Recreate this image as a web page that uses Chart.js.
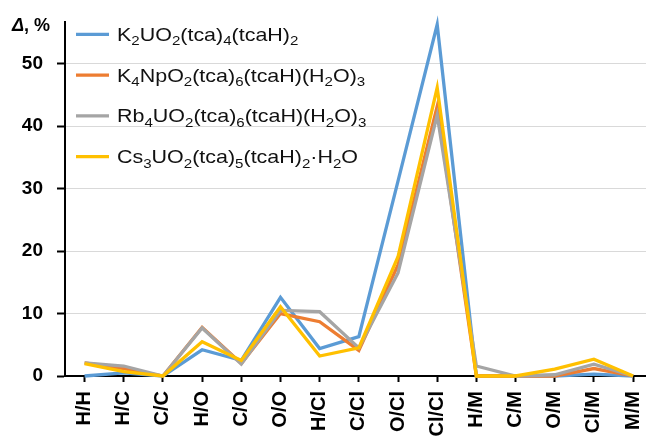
<!DOCTYPE html>
<html><head><meta charset="utf-8">
<script src="https://cdn.jsdelivr.net/npm/chart.js@4/dist/chart.umd.min.js"></script>
<style>html,body{margin:0;padding:0;background:#fff;overflow:hidden}#wrap{position:relative;width:646px;height:436px}</style>
</head><body><div id="wrap"><canvas id="c" width="646" height="436"></canvas></div>
<script>
// ---- data ----
const categories = ['H/H','H/C','C/C','H/O','C/O','O/O','H/Cl','C/Cl','O/Cl','Cl/Cl','H/M','C/M','O/M','Cl/M','M/M'];
const seriesNames = ['K2UO2(tca)4(tcaH)2','K4NpO2(tca)6(tcaH)(H2O)3','Rb4UO2(tca)6(tcaH)(H2O)3','Cs3UO2(tca)5(tcaH)2·H2O'];
const k2uo2 = [0, 0.5, 0, 4.2, 2.5, 12.6, 4.4, 6.3, 31.2, 56.3, 0, 0, 0, 0.3, 0];
const k4npo2 = [2.1, 1.2, 0, 7.8, 2.0, 10.0, 8.7, 4.1, 17.8, 43.2, 0, 0, 0, 1.2, 0];
const rb4uo2 = [2.1, 1.6, 0, 7.7, 1.9, 10.5, 10.3, 4.5, 16.5, 41.8, 1.6, 0, 0.2, 1.9, 0];
const cs3uo2 = [2.0, 0.7, 0, 5.5, 2.5, 11.1, 3.2, 4.5, 19.1, 46.2, 0, 0, 1.1, 2.7, 0];
const yTicks = [0, 10, 20, 30, 40, 50];
const yAxisTitle = ['Δ', ', %'];

const seriesValues = [k2uo2, k4npo2, rb4uo2, cs3uo2];
const colors = ['#5B9BD5', '#ED7D31', '#A5A5A5', '#FFC000'];
const FONT = '"Liberation Sans", Arial, sans-serif';

const datasets = seriesValues.map((vals, s) => ({
  label: seriesNames[s],
  data: vals.map((v, i) => ({x: i, y: v})),
  borderColor: colors[s],
  backgroundColor: colors[s],
  borderWidth: 3.3,
  pointRadius: 0,
  tension: 0,
  clip: false,
  order: seriesValues.length - s,
  borderJoinStyle: 'miter'
}));

function drawFormula(ctx, text, size) {
  let cx = 0;
  for (const ch of text) {
    const sub = /[0-9]/.test(ch);
    ctx.font = (sub ? Math.round(size * 0.72) : size) + 'px ' + FONT;
    ctx.fillText(ch, cx, sub ? 4.3 : 0);
    cx += ctx.measureText(ch).width;
  }
}

const formulaLegend = {
  id: 'formulaLegend',
  afterDraw(chart) {
    const ctx = chart.ctx;
    ctx.save();
    chart.data.datasets.forEach((ds, i) => {
      const y = 34.3 + i * 40.8;
      ctx.strokeStyle = ds.borderColor;
      ctx.lineWidth = 3.3;
      ctx.beginPath();
      ctx.moveTo(76, y);
      ctx.lineTo(109, y);
      ctx.stroke();
      ctx.fillStyle = '#111';
      ctx.textBaseline = 'alphabetic';
      ctx.textAlign = 'left';
      ctx.save();
      ctx.translate(117, y + 6.5);
      ctx.scale(1.16, 1);
      drawFormula(ctx, ds.label, 18.5);
      ctx.restore();
    });
    // axis title
    ctx.fillStyle = '#000';
    ctx.textBaseline = 'alphabetic';
    ctx.textAlign = 'left';
    ctx.font = 'italic bold 18px ' + FONT;
    ctx.fillText(yAxisTitle[0], 12, 30.7);
    const w = ctx.measureText(yAxisTitle[0]).width;
    ctx.font = 'bold 18px ' + FONT;
    ctx.fillText(yAxisTitle[1], 12 + w, 30.7);
    ctx.restore();
  }
};

new Chart(document.getElementById('c'), {
  type: 'line',
  data: { datasets },
  options: {
    responsive: false,
    animation: false,
    events: [],
    layout: { padding: { top: 22, right: 0, left: 0, bottom: 0 } },
    plugins: { legend: { display: false }, tooltip: { enabled: false }, title: { display: false } },
    scales: {
      x: {
        type: 'linear',
        min: -0.5,
        max: 14.33,
        afterBuildTicks: s => { s.ticks = categories.map((_, i) => ({ value: i })); },
        afterFit: s => { s.height = 60; s.paddingRight = 0; s.paddingLeft = 0; },
        grid: { display: true, drawOnChartArea: false, drawTicks: true, tickLength: 6, tickColor: '#000', tickWidth: 2 },
        border: { display: true, color: '#000', width: 2 },
        ticks: {
          autoSkip: false, minRotation: 90, maxRotation: 90, padding: 9,
          color: '#000', font: { family: FONT, size: 20, weight: 'bold' },
          callback: v => categories[v]
        }
      },
      y: {
        type: 'linear',
        min: 0,
        max: 56.7,
        afterBuildTicks: s => { s.ticks = yTicks.map(v => ({ value: v })); },
        afterFit: s => { s.width = 65; s.paddingTop = 0; s.paddingBottom = 0; },
        grid: { color: '#d9d9d9', lineWidth: 1, drawTicks: true, tickLength: 8, tickColor: '#000', tickWidth: 2 },
        border: { display: true, color: '#000', width: 2 },
        ticks: { padding: 14, color: '#000', font: { family: FONT, size: 19, weight: 'bold' } }
      }
    }
  },
  plugins: [formulaLegend]
});
</script></body></html>
